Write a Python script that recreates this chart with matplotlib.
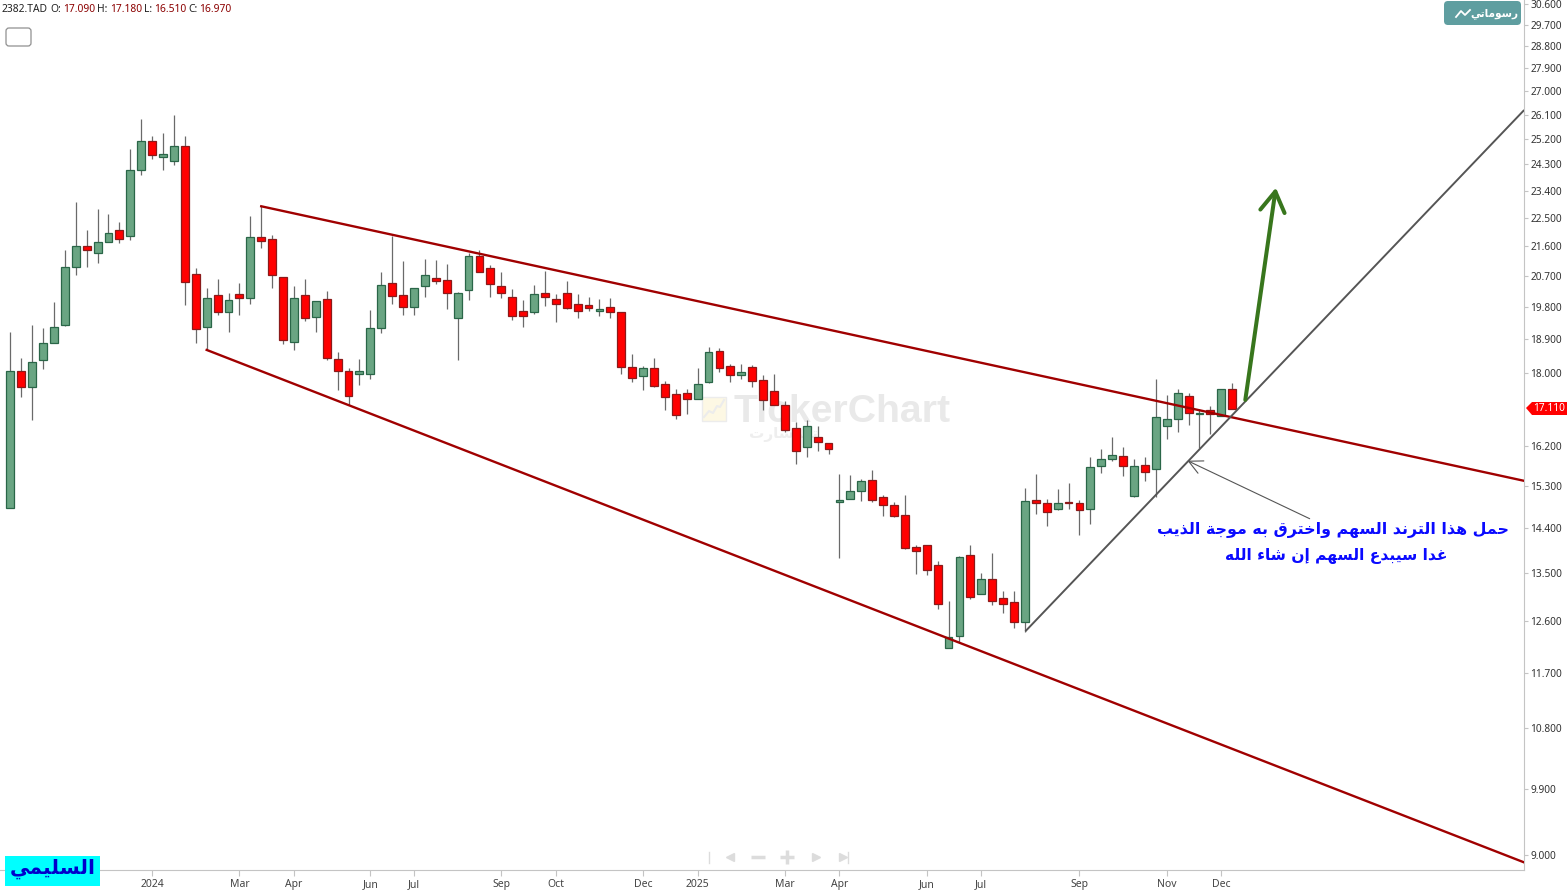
import matplotlib
matplotlib.use('Agg')
import matplotlib.pyplot as plt
from matplotlib.patches import FancyBboxPatch, Polygon, Rectangle

# weekly candles, prices
opens = [14.83, 18.06, 17.64, 18.34, 18.80, 19.29, 20.96, 21.60, 21.39, 21.73, 22.11, 21.92, 24.10, 25.13, 24.55, 24.41, 24.94, 20.75, 19.24, 20.14,
         19.65, 20.17, 20.05, 21.88, 21.82, 20.66, 18.83, 20.14, 19.51, 20.02, 18.37, 18.05, 17.98, 17.98, 19.21, 20.49, 20.14, 19.79, 20.40, 20.63,
         20.58, 19.48, 20.28, 21.30, 20.93, 20.40, 20.08, 19.68, 19.65, 20.20, 20.02, 20.20, 19.88, 19.85, 19.68, 19.79, 19.65, 18.16, 17.92, 18.13,
         17.72, 17.47, 17.49, 17.34, 17.77, 18.58, 18.18, 17.95, 18.16, 17.82, 17.54, 17.20, 16.64, 16.19, 16.42, 16.28, 14.96, 15.02, 15.20, 15.44,
         15.06, 14.89, 14.68, 14.02, 14.06, 13.66, 12.13, 12.34, 13.86, 13.11, 13.39, 13.03, 12.95, 12.59, 15.00, 14.94, 14.81, 14.96, 14.94, 14.81,
         15.75, 15.91, 15.98, 15.09, 15.78, 15.68, 16.69, 16.85, 17.42, 16.97, 17.07, 16.92, 17.59]
highs = [19.10, 18.39, 19.29, 19.21, 19.93, 21.48, 23.01, 22.11, 22.78, 22.62, 22.36, 24.84, 25.94, 25.30, 25.42, 26.08, 25.30, 20.93, 20.34, 20.61,
         20.20, 20.49, 22.56, 22.88, 21.95, 20.66, 20.40, 20.61, 19.96, 20.25, 18.56, 18.13, 18.37, 19.71, 20.81, 21.92, 21.15, 20.34, 21.21, 21.18,
         21.06, 20.22, 21.39, 21.48, 21.03, 20.81, 20.31, 19.99, 20.43, 20.84, 20.17, 20.55, 20.17, 20.08, 20.02, 20.05, 19.65, 18.50, 18.18, 18.39,
         17.79, 17.59, 17.59, 18.13, 18.69, 18.66, 18.24, 18.24, 18.21, 17.95, 17.98, 17.29, 16.78, 16.83, 16.69, 16.28, 15.57, 15.55, 15.46, 15.66,
         15.11, 14.96, 15.11, 14.06, 14.06, 13.74, 12.97, 13.84, 14.06, 13.51, 13.90, 13.16, 13.16, 15.26, 15.57, 15.02, 15.24, 15.37, 15.00, 15.96,
         16.14, 16.42, 16.19, 15.91, 15.96, 17.85, 17.44, 17.59, 17.49, 17.10, 17.17, 17.59, 17.74]
lows = [14.83, 17.39, 16.83, 18.11, 18.80, 19.26, 20.72, 20.96, 21.09, 21.73, 21.70, 21.79, 23.93, 24.48, 24.10, 24.27, 19.85, 18.80, 18.61, 19.57,
        19.10, 19.57, 19.88, 21.54, 20.34, 18.77, 18.61, 19.40, 19.10, 18.34, 17.57, 17.20, 17.69, 17.85, 19.07, 19.88, 19.57, 19.57, 20.08, 20.46,
        19.74, 18.34, 19.99, 20.81, 20.08, 20.05, 19.43, 19.24, 19.60, 19.82, 19.37, 19.74, 19.48, 19.68, 19.54, 19.48, 17.98, 17.77, 17.57, 17.64,
        17.07, 16.85, 16.97, 17.34, 17.74, 18.03, 17.77, 17.85, 17.64, 17.07, 17.20, 16.54, 15.80, 15.96, 16.10, 16.03, 13.80, 15.02, 14.98, 14.96,
        14.66, 14.64, 13.98, 13.49, 13.47, 12.83, 12.13, 12.23, 13.01, 13.11, 12.90, 12.74, 12.48, 12.41, 14.70, 14.45, 14.79, 14.81, 14.26, 14.49,
        15.60, 15.87, 15.53, 15.06, 15.42, 15.06, 16.37, 16.54, 16.71, 16.17, 16.49, 16.92, 17.10]
closes = [18.06, 17.64, 18.29, 18.80, 19.22, 20.96, 21.60, 21.48, 21.73, 22.01, 21.82, 24.10, 25.13, 24.62, 24.66, 24.94, 20.52, 19.18, 20.05, 19.65,
          19.99, 20.05, 21.88, 21.76, 20.72, 18.88, 20.05, 19.48, 19.96, 18.39, 18.05, 17.42, 18.05, 19.21, 20.43, 20.11, 19.79, 20.34, 20.72, 20.55,
          20.20, 20.20, 21.30, 20.81, 20.46, 20.20, 19.54, 19.54, 20.17, 20.08, 19.88, 19.76, 19.68, 19.76, 19.74, 19.65, 18.16, 17.87, 18.13, 17.67,
          17.39, 16.95, 17.34, 17.72, 18.56, 18.13, 17.95, 18.03, 17.79, 17.32, 17.20, 16.59, 16.10, 16.69, 16.30, 16.14, 15.00, 15.20, 15.42, 15.00,
          14.89, 14.66, 14.00, 13.94, 13.57, 12.92, 12.32, 13.82, 13.05, 13.39, 12.97, 12.92, 12.59, 14.98, 14.94, 14.75, 14.94, 14.94, 14.79, 15.73,
          15.91, 16.00, 15.75, 15.75, 15.62, 16.90, 16.85, 17.49, 17.00, 17.00, 16.97, 17.59, 17.10]

date_pos = [13, 21, 26, 33, 37, 45, 50, 58, 63, 71, 76, 84, 89, 98, 106, 111]
date_labels = ['2024', 'Mar', 'Apr', 'Jun', 'Jul', 'Sep', 'Oct', 'Dec', '2025', 'Mar', 'Apr', 'Jun', 'Jul', 'Sep', 'Nov', 'Dec']
price_ticks = [30.6, 29.7, 28.8, 27.9, 27.0, 26.1, 25.2, 24.3, 23.4, 22.5, 21.6, 20.7, 19.8, 18.9, 18.0, 16.2, 15.3, 14.4, 13.5, 12.6, 11.7, 10.8, 9.9, 9.0]

upper_x, upper_y = [23.0, 138.7], [22.88, 15.42]
lower_x, lower_y = [18.0, 138.7], [18.61, 8.91]
trend_x, trend_y = [93.1, 138.7], [12.43, 26.25]
green_x, green_y = [113.2, 116.0], [17.32, 23.5]
note_x, note_y = [119.1, 107.9], [14.60, 15.87]

note1 = 'حمل هذا الترند السهم واخترق به موجة الذيب'
note2 = 'غدا سيبدع السهم إن شاء الله'
brand = 'رسوماتي'
author = 'السليمي'
mark_ar = 'تكرشارت'

# matplotlib does no arabic shaping, so pick presentation forms here
FORMS = {
    'ا': (0xFE8D, 0xFE8E), 'إ': (0xFE87, 0xFE88), 'د': (0xFEA9, 0xFEAA), 'ذ': (0xFEAB, 0xFEAC),
    'ر': (0xFEAD, 0xFEAE), 'و': (0xFEED, 0xFEEE), 'ة': (0xFE93, 0xFE94), 'ء': (0xFE80,),
    'ب': (0xFE8F, 0xFE90, 0xFE91, 0xFE92), 'ت': (0xFE95, 0xFE96, 0xFE97, 0xFE98),
    'ج': (0xFE9D, 0xFE9E, 0xFE9F, 0xFEA0), 'ح': (0xFEA1, 0xFEA2, 0xFEA3, 0xFEA4),
    'خ': (0xFEA5, 0xFEA6, 0xFEA7, 0xFEA8), 'س': (0xFEB1, 0xFEB2, 0xFEB3, 0xFEB4),
    'ش': (0xFEB5, 0xFEB6, 0xFEB7, 0xFEB8), 'ع': (0xFEC9, 0xFECA, 0xFECB, 0xFECC),
    'غ': (0xFECD, 0xFECE, 0xFECF, 0xFED0), 'ق': (0xFED5, 0xFED6, 0xFED7, 0xFED8),
    'ك': (0xFED9, 0xFEDA, 0xFEDB, 0xFEDC), 'ل': (0xFEDD, 0xFEDE, 0xFEDF, 0xFEE0),
    'م': (0xFEE1, 0xFEE2, 0xFEE3, 0xFEE4), 'ن': (0xFEE5, 0xFEE6, 0xFEE7, 0xFEE8),
    'ه': (0xFEE9, 0xFEEA, 0xFEEB, 0xFEEC), 'ي': (0xFEF1, 0xFEF2, 0xFEF3, 0xFEF4),
}


def shape(s):
    out = []
    for i, c in enumerate(s):
        if c not in FORMS:
            out.append(c)
            continue
        f = FORMS[c]
        p = i > 0 and s[i - 1] in FORMS and len(FORMS[s[i - 1]]) == 4
        n = i < len(s) - 1 and s[i + 1] in FORMS and len(FORMS[s[i + 1]]) > 1
        if len(f) == 4:
            k = 3 if p and n else 1 if p else 2 if n else 0
        elif len(f) == 2:
            k = 1 if p else 0
        else:
            k = 0
        out.append(chr(f[k]))
    return ''.join(reversed(out))


plt.rcParams['font.family'] = ['Noto Sans', 'DejaVu Sans']
W, H = 1567, 891
fig = plt.figure(figsize=(W / 100, H / 100), dpi=100, facecolor='white')

# watermark goes under the chart, UI bits over it, both in pixel coords
bg = fig.add_axes([0, 0, 1, 1], zorder=0)
ov = fig.add_axes([0, 0, 1, 1], zorder=2)
for a in (bg, ov):
    a.set_xlim(0, W)
    a.set_ylim(H, 0)
    a.axis('off')

ax = fig.add_axes([0, (H - 870) / H, 1524 / W, 870 / H], zorder=1)
ax.patch.set_visible(False)
ax.set_yscale('log')
ax.set_xlim(-10.3 / 10.91, (1524 - 10.3) / 10.91)
ax.set_ylim(8.81, 30.78)

bg.add_patch(Rectangle((702, 397), 24, 24, fc='#fdf8e4', ec='#ececec', lw=1))
bg.plot([704, 709, 713, 717, 720, 724], [417, 411, 413, 406, 407, 400], color='#ececec', lw=1.5)
bg.text(733, 412, 'TickerChart', family='Liberation Sans', weight='bold', fontsize=28.3, color='#e9e9e9', va='center', ha='left')
bg.text(784, 434, shape(mark_ar), family='DejaVu Sans', weight='bold', fontsize=11, color='#eeeeee', va='center', ha='center')

idx = range(len(opens))
for i in idx:
    up = closes[i] >= opens[i]
    ax.vlines(i, lows[i], highs[i], color='#6a6a6a', lw=0.9, zorder=2)
    ax.bar(i, abs(closes[i] - opens[i]), bottom=min(opens[i], closes[i]), width=0.72,
           color='#6aa583' if up else '#ff0000', edgecolor='#2a6648' if up else '#8b1a1a', lw=0.9, zorder=3)

ax.plot(upper_x, upper_y, color='#a00000', lw=1.7, zorder=4)
ax.plot(lower_x, lower_y, color='#a00000', lw=1.7, zorder=4)
ax.plot(trend_x, trend_y, color='#555555', lw=1.4, zorder=4)
ax.annotate('', xy=(green_x[1], green_y[1]), xytext=(green_x[0], green_y[0]), zorder=5,
            arrowprops=dict(arrowstyle='->,head_length=0.9,head_width=0.55', color='#38761d', lw=2.9, shrinkA=0, shrinkB=0, mutation_scale=16))
ax.annotate('', xy=(note_x[1], note_y[1]), xytext=(note_x[0], note_y[0]), zorder=5,
            arrowprops=dict(arrowstyle='->,head_length=0.7,head_width=0.35', color='#555555', lw=0.8, shrinkA=0, shrinkB=0, mutation_scale=14))

for s in ('top', 'left'):
    ax.spines[s].set_visible(False)
for s in ('right', 'bottom'):
    ax.spines[s].set_color('#c4c4c4')
ax.yaxis.tick_right()
ax.set_yticks(price_ticks)
ax.set_yticklabels(['%.3f' % p for p in price_ticks])
ax.minorticks_off()
ax.set_xticks(date_pos)
ax.set_xticklabels(date_labels)
ax.tick_params(axis='y', length=3, width=0.8, color='#c4c4c4', labelsize=7.3, labelcolor='#333333', pad=1.5)
ax.tick_params(axis='x', length=4, width=0.8, color='#c4c4c4', labelsize=7.5, labelcolor='#444444', pad=2.5)

# header line
hdr = [(2, '2382.TAD', '#222222'), (50, 'O:', '#222222'), (63, '17.090', '#8b0000'), (97, 'H:', '#222222'), (110, '17.180', '#8b0000'),
       (144, 'L:', '#222222'), (154, '16.510', '#8b0000'), (188, 'C:', '#222222'), (199, '16.970', '#8b0000')]
for x, t, c in hdr:
    ov.text(x, 9.5, t, fontsize=7.4, color=c, va='center', ha='left')
ov.add_patch(FancyBboxPatch((6, 28), 25, 18, boxstyle='round,pad=0,rounding_size=3', fc='white', ec='#909090', lw=0.9))

# brand badge
ov.add_patch(FancyBboxPatch((1444, 1), 77, 24, boxstyle='round,pad=0,rounding_size=4', fc='#5f9ea0', ec='none'))
ov.plot([1456, 1461, 1465, 1470], [17, 11, 15, 10], color='white', lw=1.3)
ov.text(1494, 13.5, shape(brand), family='DejaVu Sans', weight='bold', fontsize=7.6, color='white', va='center', ha='center')

# author box
ov.add_patch(Rectangle((5, 856), 95, 30, fc='#00ffff', ec='none'))
ov.text(52.5, 869, shape(author), family='DejaVu Sans', weight='bold', fontsize=14.5, color='#0000cc', va='center', ha='center')

# note
ov.text(1333, 530.5, shape(note1), family='DejaVu Sans', weight='bold', fontsize=11.4, color='#0a0aff', va='center', ha='center')
ov.text(1336, 555.5, shape(note2), family='DejaVu Sans', weight='bold', fontsize=11.2, color='#0a0aff', va='center', ha='center')

# last price tag
ov.add_patch(Polygon([(1526, 408), (1532, 402), (1567, 402), (1567, 415), (1532, 415)], closed=True, fc='#ff0000', ec='none'))
ov.text(1549, 408.5, '17.110', fontsize=7.3, weight='bold', color='white', va='center', ha='center')

# chart navigation controls
nav = '#dcdcdc'
ov.plot([709, 709], [852, 863], color=nav, lw=1)
ov.plot([730], [857], marker='<', ms=6, color=nav)
ov.plot([758], [857], marker='_', ms=10, mew=2.5, color=nav)
ov.plot([787], [857], marker='+', ms=10, mew=2.5, color=nav)
ov.plot([816], [857], marker='>', ms=6, color=nav)
ov.plot([843], [857], marker='>', ms=6, color=nav)
ov.plot([848, 848], [852, 863], color=nav, lw=1)
ov.set_xlim(0, W)
ov.set_ylim(H, 0)

fig.savefig('out.png', dpi=100)
